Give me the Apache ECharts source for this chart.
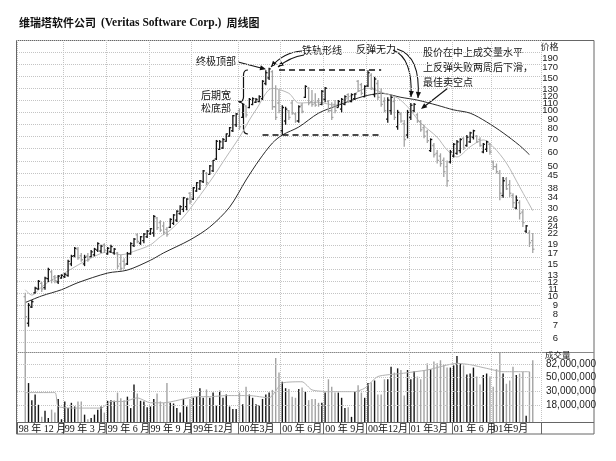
<!DOCTYPE html>
<html><head><meta charset="utf-8">
<script src="https://cdn.jsdelivr.net/npm/echarts@6.0.0/dist/echarts.min.js"></script>
<style>html,body{margin:0;padding:0;background:#fff}#c{width:616px;height:461px}</style>
</head><body><div id="c"></div>
<script>
// ---- weekly OHLC (price, USD) ----
const opens = [10,7.2,8.8,10.5,11.0,11.8,11.2,12.5,13.6,12.8,12.0,12.6,12.8,13.0,15.0,16.6,18.0,16.6,15.0,16.5,
16.4,16.8,17.8,17.6,19.0,17.0,17.5,17.2,17.2,15.0,15.5,15.0,17.0,18.8,21.5,19.4,20.0,21.0,21.8,22.0,
26.5,25.0,24.0,23.0,23.6,24.8,25.8,28.0,29.5,30.5,36.0,33.5,37.0,38.0,41.5,46.0,45.5,47.5,55.0,62.0,
63.0,68.5,73.0,78.0,84.0,100,92,106,104,108,111,112,116,140,150,162,105,110,78,88,
100,110,96,88,107,118,132,112,110,113,108,115,112,100,108,104,102,108,122,112,
116,144,138,119,136,155,122,140,125,112,90,100,112,82,96,85,74,92,100,95,
87,81,77,61,65,59,57,54,50,53,57,59,61,71,65,68,72,73,70,60,
62,66,53,50,46,35,43,40,35,30,32,28.5,22.5,22,20];
const highs = [10.5,9.25,9.6,11.3,12.3,12.0,12.8,14.3,13.9,13.1,13.1,13.2,13.4,15.8,16.8,18.5,18.5,17.2,16.8,17.2,
17.8,18.3,19.6,19.0,19.4,18.5,19.0,18.3,17.4,16.8,16.1,17.4,19.6,20.7,22.0,21.2,22.0,22.8,23.4,27.5,
26.8,25.8,25.2,23.7,26.4,27.8,29.2,31.0,34.4,33.8,36.6,38.9,41.3,42.4,48.0,46.8,51.0,54.3,69.6,69.6,
71.3,75.5,81.7,94.8,97.2,103,110,107,117,118,117,121,146,165,170,165,137,129,107,105,
101,114,98,107,110,137,134,129,124,117,129,134,114,111,114,114,117,121,124,124,
124,146,141,137,165,159,152,146,132,118,118,121,118,101,98,89,101,110,110,97,
89,84,79,71,67,61.5,59,56,54,61.5,67,69.6,71,72,74,77,79,74,72,67,
69,67,54,52,48,44,44,42.4,36,35,33,29.5,24.3,22.8,22];
const lows = [4.8,6.9,8.7,10.4,10.9,10.6,10.9,12.0,11.8,11.8,11.7,12.5,12.6,12.8,14.6,16.3,15.8,15.4,14.6,15.4,
16.3,16.5,17.4,17.2,17.2,16.8,17.2,16.8,14.1,13.8,14.1,14.8,16.8,18.5,19.4,19.0,19.4,20.7,21.5,21.0,
22.8,22.3,21.5,21.0,23.4,24.3,25.2,27.5,28.5,29.2,31.4,33.1,36.6,37.5,40.8,39.8,45.2,46.8,54.3,61.5,
62.5,68.0,72.5,76.9,81.7,78.8,91.4,92,103,107,110,111,114,137,146,101,89,97,74,84,
89,95,86,86,97,117,107,105,105,105,107,111,98,89,97,104,98,107,110,111,
114,126,121,118,134,129,118,114,105,98,86,95,89,79,86,64,71,89,98,86,
77,71,67,60,56,52,50,44,39,52,56,58,59,61.5,64,67,70,67,64,59,
60,58,48,46,33,34,37.5,34.4,30,29.5,26,23.7,22,18.5,17.2];
const closes = [7.8,9.0,9.4,11.1,12.1,11.0,12.6,14.0,12.3,12.2,12.9,13.0,13.2,15.5,16.5,18.2,16.2,15.8,16.3,15.8,
17.4,18.0,19.3,18.7,17.8,18.2,18.6,18.0,14.6,14.2,14.8,17.0,19.3,20.4,19.8,21.0,21.7,22.5,23.2,27.0,
23.5,22.8,22.2,21.6,26.0,27.5,28.8,30.5,34.0,33.5,32.5,38.5,41.0,42.0,47.5,41.0,50.5,54.0,68.5,68.0,
70.0,75.0,81.0,94.0,96.0,82,108,95,115,116,115,119,144,160,168,105,92,100,104,102,
92,97,88,105,99,135,110,108,107,108,127,132,100,92,100,112,115,119,112,122,
123,128,124,135,160,132,148,118,108,100,114,118,92,98,88,70,98,107,108,88,
79,73,69,70,58,54,52,47,42,60,66,68,70,63,72,76,78,68,65,66,
68,60,50,47,36,42,38,36,32,33,28,25,24,19.5,18];
// ---- weekly volume, millions of shares ----
const volumesM = [126.9,41,22,27,18.6,12,15,11.5,15.6,14,23,11,21,16.5,20,17.5,21,21,13,11,
11.5,13,15.6,17.5,14,21.5,22,21.5,29,23.5,22,25,16.5,39,28,21.5,21,17,17.5,23,
28,21,20,41,20,19.5,16.5,14,23,17.5,23,24,25,34,24,32.5,24,29,18,31,
24,27,17.5,16,16,29,19,36,27,24,19,18.5,23,27,29,32,102,60,43,34,
33,25,24,33,35,30,22,23,23,20,20,29,47,36,29,29,24,16.5,17,12,
30,38,29,24,41,42,45,27,27,47,47,74,60,70,66,26,66,47,63,52,
47,66,84,68,90,84,94,80,72,72,78,110,85,78,56,58,72,52,39,55,
58,52,36,68,126.9,58,40,45,74,55,58,62,12.5,62,94];
// ---- moving averages read at sampled weeks: [week index, value] ----
const maShort = [[0,10.9],[2,10.2],[5,11.3],[8,12.3],[11,13.1],[16,14.8],[22,16.8],[25,17.4],[29,16.8],[34,17.8],
[38,19],[41,21],[44,22.8],[48,26.8],[52,33.1],[57,44],[61,56.4],[65,72],[68,89],[70,101],[75,132],[80,124],[83,110],
[89,111],[94,107],[99,121],[104,132],[109,124],[113,117],[116,105],[120,86],[125,72],[128,61.5],[131,56.4],[135,64],
[139,69.6],[142,64],[146,52.3],[150,39],[154,29]];
const maLong = [[0,9.3],[5,10.1],[11,10.9],[16,11.9],[25,13.4],[31,13.9],[38,15.7],[42,17.2],[50,20.2],[56,23.7],
[62,30.3],[67,42.4],[71,54.3],[75,67],[78,74],[83,81.7],[89,97],[95,107],[101,117],[104,121],[108,124],[114,118],
[119,114],[125,107],[130,101],[135,97],[140,87],[145,76],[150,65],[153,58]];
const volMA = [[0,29],[9,29],[10,17.5],[16,16.5],[23,16.5],[26,21],[30,21],[34,24],[38,20],[42,20],[52,25],[56,25],
[61,26],[68,26],[74,24],[78,41],[84,43],[87,32],[92,30],[100,30],[103,34],[107,52],[114,58],[122,66],[131,84],
[135,80],[140,70],[145,62],[153,62]];
// ---- axis ticks ----
const priceTicks = [190,170,150,130,120,110,100,90,80,70,60,50,45,38,34,30,26,24,22,19,17,15,13,12,11,10,9,8,7,6];
const volumeTicks = [82,50,30,18];
const quarterStarts = [-2,12,25,38,51,65,78,91,104,117,130,142];
const quarterLabels = ['98 年 12 月','99 年 3 月','99 年 6 月','99 年 9 月','99年12月','00年3月','00 年 6月','00 年 9月','00年12月','01 年3月','01 年 6 月','01年9月'];

const PAD = 2, TOTAL = 159;
const cats = Array.from({length: TOTAL}, (_, k) => String(k));
const ohlc = opens.map((o, i) => [i + PAD, o, highs[i], lows[i], closes[i]]);
const vol = volumesM.map((v, i) => [i + PAD, v, closes[i] >= opens[i] ? 1 : 0]);
const qSet = new Set(quarterStarts.map(i => i + PAD));
const qLab = {}; quarterStarts.forEach((i, j) => { qLab[i + PAD] = quarterLabels[j]; });
// empty spacer labels next to the axis ends so the end labels never suppress their neighbours
const labelSet = new Set([...qSet, 1, TOTAL - 1]);
const priceLabelValues = [239.5].concat(priceTicks);
const shift = arr => arr.map(([i, v]) => [i + PAD, v]);
const UP = '#151515', DN = '#a3a3a3';
const GRIDC = '#c4c4c4';
const CJK = '"Noto Sans CJK SC", sans-serif';

function ohlcItem(params, api) {
  const i = api.value(0);
  const o = api.coord([i, api.value(1)]);
  const h = api.coord([i, api.value(2)]);
  const l = api.coord([i, api.value(3)]);
  const c = api.coord([i, api.value(4)]);
  const col = api.value(4) >= api.value(1) ? UP : DN;
  const x = h[0], t = 1.7;
  const st = {stroke: col, lineWidth: 1.3};
  return {type: 'group', children: [
    {type: 'line', shape: {x1: x, y1: h[1], x2: x, y2: l[1]}, style: st},
    {type: 'line', shape: {x1: x - t, y1: o[1], x2: x, y2: o[1]}, style: st},
    {type: 'line', shape: {x1: x, y1: c[1], x2: x + t, y2: c[1]}, style: st}
  ]};
}
function volItem(params, api) {
  const i = api.value(0);
  const p = api.coord([i, api.value(1)]);
  const base = params.coordSys.y + params.coordSys.height;
  return {type: 'line', shape: {x1: p[0], y1: p[1], x2: p[0], y2: base},
    style: {stroke: api.value(2) ? UP : DN, lineWidth: 1.4}};
}
function head(x, y, fx, fy) {
  const a = Math.atan2(y - fy, x - fx), s = 6, w = 2.6;
  const bx = x - s * Math.cos(a), by = y - s * Math.sin(a);
  const px = -Math.sin(a) * w, py = Math.cos(a) * w;
  return {type: 'polygon', shape: {points: [[x, y], [bx + px, by + py], [bx - px, by - py]]}, style: {fill: '#111'}, silent: true};
}
function bez(x1, y1, cx, cy, x2, y2, w) {
  return {type: 'bezierCurve', shape: {x1, y1, x2, y2, cpx1: cx, cpy1: cy}, style: {stroke: '#111', lineWidth: w || 1.1, fill: 'none'}, silent: true};
}
function seg(x1, y1, x2, y2, w) {
  return {type: 'line', shape: {x1, y1, x2, y2}, style: {stroke: '#111', lineWidth: w || 1.1}, silent: true};
}
function curve(x1, y1, cx, cy, x2, y2) {
  return [bez(x1, y1, cx, cy, x2, y2), head(x2, y2, cx, cy)];
}
function txt(x, y, s, align) {
  return {type: 'text', x, y, style: {text: s, font: '10px ' + CJK, fill: '#111', align: align || 'center', verticalAlign: 'middle'}, silent: true};
}
const graphics = [
  {type: 'rect', shape: {x: 16.5, y: 40.5, width: 577.5, height: 393.5}, style: {fill: 'none', stroke: '#666', lineWidth: 1}, silent: true},
  {type: 'line', shape: {x1: 16.5, y1: 352.5, x2: 594, y2: 352.5}, style: {stroke: '#888', lineWidth: 1}, silent: true},
  {type: 'line', shape: {x1: 16.5, y1: 422.5, x2: 594, y2: 422.5}, style: {stroke: '#666', lineWidth: 1}, silent: true},
  {type: 'text', x: 549.5, y: 47, style: {text: '价格', font: '9px ' + CJK, fill: '#222', align: 'center', verticalAlign: 'middle'}, silent: true},
  {type: 'text', x: 545, y: 355, style: {text: '成交量', font: '8.5px ' + CJK, fill: '#222', align: 'left', verticalAlign: 'middle'}, silent: true},
  txt(216, 61, '终极顶部'),
  seg(238, 62, 261, 68),
  head(266, 69.3, 238, 62),
  txt(322, 50, '铁轨形线'),
  ...curve(302, 51, 284, 52, 271, 67),
  ...curve(304, 55, 290, 57, 278, 67),
  txt(216, 95, '后期宽'),
  txt(216, 108, '松底部'),
  bez(248, 70, 243.5, 70, 243.5, 75, 1.2),
  seg(243.5, 75, 243.5, 97, 1.2),
  bez(243.5, 97, 243.5, 102, 238, 102, 1.2),
  bez(238, 102, 243.5, 102, 243.5, 107, 1.2),
  seg(243.5, 107, 243.5, 129, 1.2),
  bez(243.5, 129, 243.5, 134, 248, 134, 1.2),
  txt(376, 49, '反弹无力'),
  ...curve(393, 50, 413, 58, 411, 97),
  ...curve(397, 49, 421, 56, 418, 98),
  txt(423, 52, '股价在中上成交量水平', 'left'),
  txt(423, 67, '上反弹失败两周后下滑，', 'left'),
  txt(423, 82, '最佳卖空点', 'left'),
  seg(448, 88, 425, 106),
  head(421, 109, 448, 88)
];

const splitX = {show: true, interval: (idx) => qSet.has(idx), lineStyle: {color: GRIDC, type: 'dotted', width: 1}};

const option = {
  animation: false,
  backgroundColor: '#fff',
  title: {
    text: '{a|维瑞塔软件公司} {b|(Veritas Software Corp.)} {a|周线图}',
    left: 14, top: 9,
    textStyle: {rich: {
      a: {fontFamily: CJK, fontWeight: 'bold', fontSize: 11, color: '#111'},
      b: {fontFamily: '"Liberation Serif", serif', fontSize: 11.5, color: '#111'}
    }}
  },
  grid: [
    {left: 17, right: 75, top: 40, height: 312},
    {left: 17, right: 75, top: 352, height: 70}
  ],
  xAxis: [
    {type: 'category', gridIndex: 0, data: cats, boundaryGap: true,
     axisLine: {show: false}, axisTick: {show: false}, axisLabel: {show: false}, splitLine: splitX},
    {type: 'category', gridIndex: 1, data: cats, boundaryGap: true,
     axisLine: {show: true, lineStyle: {color: '#666'}},
     axisTick: {show: true, interval: (idx) => qSet.has(idx), length: 12, lineStyle: {color: '#666'}},
     axisLabel: {show: true, interval: (idx) => labelSet.has(idx), formatter: (v) => qLab[+v] || '',
       showMinLabel: true, showMaxLabel: true, hideOverlap: false,
       align: 'left', margin: 2, fontSize: 10, color: '#111', fontFamily: '"Liberation Serif", "Noto Sans CJK SC", serif'},
     splitLine: splitX}
  ],
  yAxis: [
    {type: 'log', gridIndex: 0, position: 'right', min: 5.043, max: 239.9, logBase: 10,
     axisLine: {show: false}, axisTick: {show: false}, splitLine: {show: false},
     axisLabel: {customValues: priceLabelValues, formatter: v => (v > 200 ? '' : String(v)),
       showMinLabel: true, showMaxLabel: true, hideOverlap: false,
       align: 'right', margin: 17, fontSize: 9.5, color: '#222',
       fontFamily: '"Liberation Sans Narrow", "Liberation Sans", sans-serif'}},
    {type: 'value', gridIndex: 0, position: 'left', inverse: true, min: 0, max: 25.83, interval: 1,
     axisLine: {show: false}, axisTick: {show: false}, axisLabel: {show: false},
     splitLine: {show: true, lineStyle: {color: GRIDC, type: 'dotted', width: 1}}},
    {type: 'log', gridIndex: 1, position: 'right', min: 9.95, max: 126.9, logBase: 10,
     axisLine: {show: false}, axisTick: {show: false}, splitLine: {show: false},
     axisLabel: {customValues: volumeTicks, formatter: v => v + ',000,000', showMinLabel: true, showMaxLabel: true,
       align: 'left', margin: 5, fontSize: 10, color: '#222',
       fontFamily: '"Liberation Sans Narrow", "Liberation Sans", sans-serif'}}
  ],
  graphic: graphics,
  series: [
    {type: 'line', name: 'maLong', xAxisIndex: 0, yAxisIndex: 0, data: shift(maLong), showSymbol: false, smooth: 0.3,
     lineStyle: {color: '#2a2a2a', width: 1}, z: 2, silent: true,
     markLine: {symbol: 'none', silent: true, label: {show: false},
       lineStyle: {type: [6, 4], color: '#111', width: 1.6},
       data: [[{coord: [77 + PAD, 165]}, {coord: [108 + PAD, 165]}],
              [{coord: [72 + PAD, 74]}, {coord: [108 + PAD, 74]}]]}},
    {type: 'line', name: 'maShort', xAxisIndex: 0, yAxisIndex: 0, data: shift(maShort), showSymbol: false, smooth: 0.3,
     lineStyle: {color: '#b8b8b8', width: 1}, z: 2, silent: true},
    {type: 'custom', name: 'price', xAxisIndex: 0, yAxisIndex: 0, data: ohlc, renderItem: ohlcItem,
     encode: {x: 0, y: [1, 2, 3, 4]}, clip: true, z: 3, silent: true},
    {type: 'custom', name: 'volume', xAxisIndex: 1, yAxisIndex: 2, data: vol, renderItem: volItem,
     encode: {x: 0, y: 1}, clip: true, z: 3, silent: true},
    {type: 'line', name: 'volMA', xAxisIndex: 1, yAxisIndex: 2, data: shift(volMA), showSymbol: false, smooth: 0.2,
     lineStyle: {color: '#b0b0b0', width: 1}, z: 4, silent: true,
     markLine: {symbol: 'none', silent: true, label: {show: false},
       lineStyle: {type: 'dotted', color: GRIDC, width: 1},
       data: volumeTicks.map(v => ({yAxis: v}))}}
  ]
};
echarts.init(document.getElementById('c'), null, {renderer: 'canvas'}).setOption(option);
</script></body></html>
